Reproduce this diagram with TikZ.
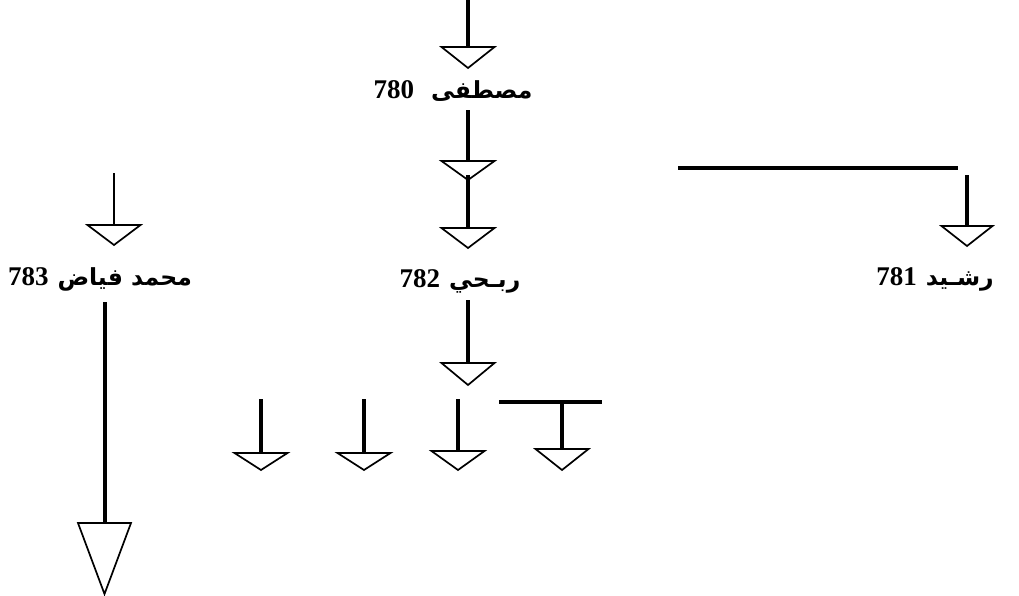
\documentclass[tikz,border=0pt]{standalone}
\usepackage{fontspec}
\TeXXeTstate=1
\setmainfont{Liberation Serif}
\newfontfamily\arabicfont[Script=Arabic]{DejaVu Sans}
\begin{document}
\begin{tikzpicture}[x=1pt,y=-1pt,
  thickline/.style={line width=3.4pt},
  thinline/.style={line width=1.5pt},
  tri/.style={line width=1.7pt, line join=miter, fill=white},
  lbl/.style={inner sep=0pt, font=\fontsize{27}{31}\selectfont\bfseries},
  pics/dtri/.style args={#1/#2}{code={\draw[tri] (-#1,0) -- (#1,0) -- (0,#2) -- cycle;}}
]
\useasboundingbox (0,0) rectangle (1019,595);
\newcommand{\ar}[1]{{\arabicfont\fontsize{23.5}{28}\selectfont\beginR #1\endR}}

% ---- coordinates
\coordinate (t0) at (468,0);
\coordinate (t1) at (468,47);
\coordinate (m1) at (468,110);
\coordinate (m2) at (468,161);
\coordinate (m3) at (468,175);
\coordinate (m4) at (468,228);
\coordinate (r1) at (468,300);
\coordinate (r2) at (468,363);

% ---- labels
\node[lbl] (mustafa) at (453,91) {780\hspace{17pt}\ar{مصطفى}};
\node[lbl] (rabhi) at (460,281) {782\hspace{9pt}\ar{ربـحي}};
\node[lbl] (fayyad) at (100,279) {783\hspace{9pt}\ar{محمد فياض}};
\node[lbl] (rashid) at (935,279) {781\hspace{9pt}\ar{رشـيد}};

% ---- top chain
\draw[thickline] (t0) -- (t1);
\pic at (t1) {dtri=26.5/21};
\draw[thickline] (m1) -- (m2);
\pic at (m2) {dtri=26.5/19};
\draw[thickline] (m3) -- (m4);
\pic at (m4) {dtri=26.5/20};

% ---- below Rabhi
\draw[thickline] (r1) -- (r2);
\pic at (r2) {dtri=26.5/22};

% four children
\coordinate (c1a) at (261,399); \coordinate (c1b) at (261,453);
\coordinate (c2a) at (364,399); \coordinate (c2b) at (364,453);
\coordinate (c3a) at (458,399); \coordinate (c3b) at (458,451);
\coordinate (barL) at (499,402); \coordinate (barR) at (602,402);
\coordinate (c4a) at (562,402); \coordinate (c4b) at (562,449);
\draw[thickline] (c1a) -- (c1b); \pic at (c1b) {dtri=26.5/17};
\draw[thickline] (c2a) -- (c2b); \pic at (c2b) {dtri=26.5/17};
\draw[thickline] (c3a) -- (c3b); \pic at (c3b) {dtri=26.5/19};
\draw[line width=4pt] (barL) -- (barR);
\draw[thickline] (c4a) -- (c4b); \pic at (c4b) {dtri=26.5/21};

% ---- left branch (Muhammad Fayyad)
\coordinate (l0) at (114,173);
\coordinate (l1) at (114,225);
\coordinate (l2) at (105,302);
\coordinate (l3) at (105,523);
\draw[thinline] (l0) -- (l1);
\pic at (l1) {dtri=26.5/20};
\draw[thickline] (l2) -- (l3);
\draw[tri] (78,523) -- (131,523) -- (104.5,594) -- cycle;

% ---- right branch (Rashid)
\coordinate (h0) at (678,168);
\coordinate (h1) at (958,168);
\coordinate (v0) at (967,175);
\coordinate (v1) at (967,226);
\draw[line width=4pt] (h0) -- (h1);
\draw[thickline] (v0) -- (v1);
\pic at (v1) {dtri=25.5/20};
\end{tikzpicture}
\end{document}
